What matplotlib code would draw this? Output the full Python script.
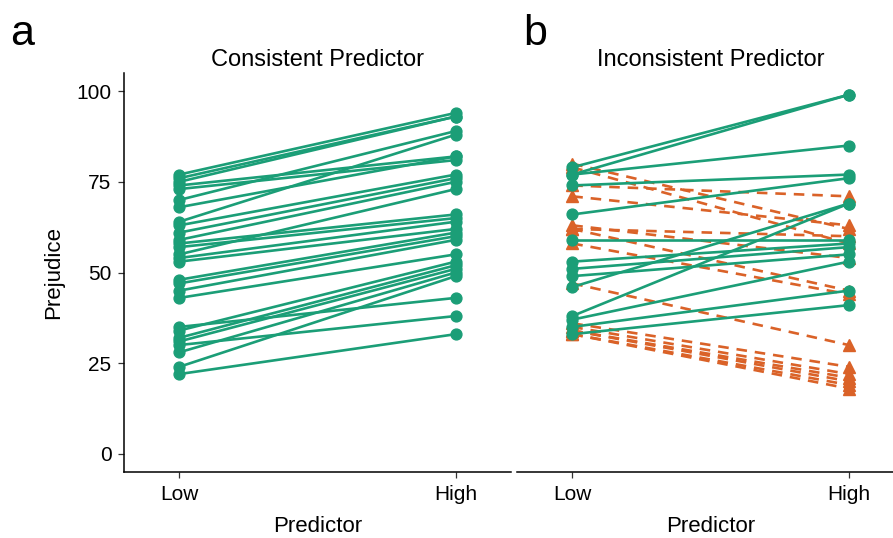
import matplotlib
matplotlib.use("Agg")
import matplotlib.pyplot as plt

plt.rcParams["font.family"] = ["Liberation Sans", "DejaVu Sans"]

GREEN = "#1b9e77"
ORANGE = "#da6228"

levels = ["Low", "High"]

# panel a: consistent predictor (low -> high per participant)
a_low = [77, 76, 75, 74, 73, 70, 68, 64, 63, 61, 59, 58, 57, 55,
         54, 53, 48, 47, 45, 43, 35, 34, 32, 31, 30, 28, 24, 22]
a_high = [94, 93, 93, 82, 81, 89, 82, 88, 77, 76, 75, 66, 65, 73,
          64, 62, 61, 60, 59, 55, 43, 53, 52, 51, 38, 50, 49, 33]

# panel b: inconsistent predictor, rising (green) participants
b_up_low = [79, 77, 77, 74, 66, 59, 53, 51, 49, 46, 38, 37, 35, 33]
b_up_high = [99, 99, 85, 77, 76, 59, 58, 57, 55, 69, 69, 53, 45, 41]

# panel b: falling (orange) participants
b_dn_low = [80, 79, 74, 71, 63, 62, 62, 58, 47, 36, 35, 34, 34, 33, 33]
b_dn_high = [62, 58, 71, 63, 54, 45, 60, 44, 30, 24, 22, 21, 20, 19, 18]

fig = plt.figure(figsize=(8.93, 5.38), dpi=100)
axw, axh = 387 / 893, 399 / 538
bot = 1 - 472 / 538
ax1 = fig.add_axes([124 / 893, bot, axw, axh])
ax2 = fig.add_axes([517 / 893, bot, axw, axh])

xs = [1, 2]
for lo, hi in zip(a_low, a_high):
    ax1.plot(xs, [lo, hi], color=GREEN, lw=1.9, marker="o", ms=7.8, zorder=2)

for lo, hi in zip(b_dn_low, b_dn_high):
    ax2.plot(xs, [lo, hi], color=ORANGE, lw=1.9, ls=(0, (4, 3)), marker="^",
             ms=9, zorder=2)
for lo, hi in zip(b_up_low, b_up_high):
    ax2.plot(xs, [lo, hi], color=GREEN, lw=1.9, marker="o", ms=7.8, zorder=3)

for ax, title in [(ax1, "Consistent Predictor"), (ax2, "Inconsistent Predictor")]:
    ax.set_xlim(0.8, 2.2)
    ax.set_ylim(-5, 105)
    ax.set_xticks(xs)
    ax.set_xticklabels(levels)
    ax.set_xlabel("Predictor", fontsize=16, labelpad=9)
    ax.set_title(title, fontsize=17, pad=5)
    for s in ["top", "right"]:
        ax.spines[s].set_visible(False)
    ax.spines["bottom"].set_linewidth(1.1)
    ax.spines["left"].set_linewidth(1.1)
    ax.tick_params(labelsize=15, length=4, width=0.9, color="#333333", pad=5)

ax1.set_yticks([0, 25, 50, 75, 100])
ax1.set_ylabel("Prejudice", fontsize=16, labelpad=9)
ax2.spines["left"].set_visible(False)
ax2.set_yticks([])

fig.text(10 / 893, 1 - 45 / 538, "a", fontsize=31)
fig.text(523 / 893, 1 - 45 / 538, "b", fontsize=31)

fig.savefig("out.png", dpi=100)
